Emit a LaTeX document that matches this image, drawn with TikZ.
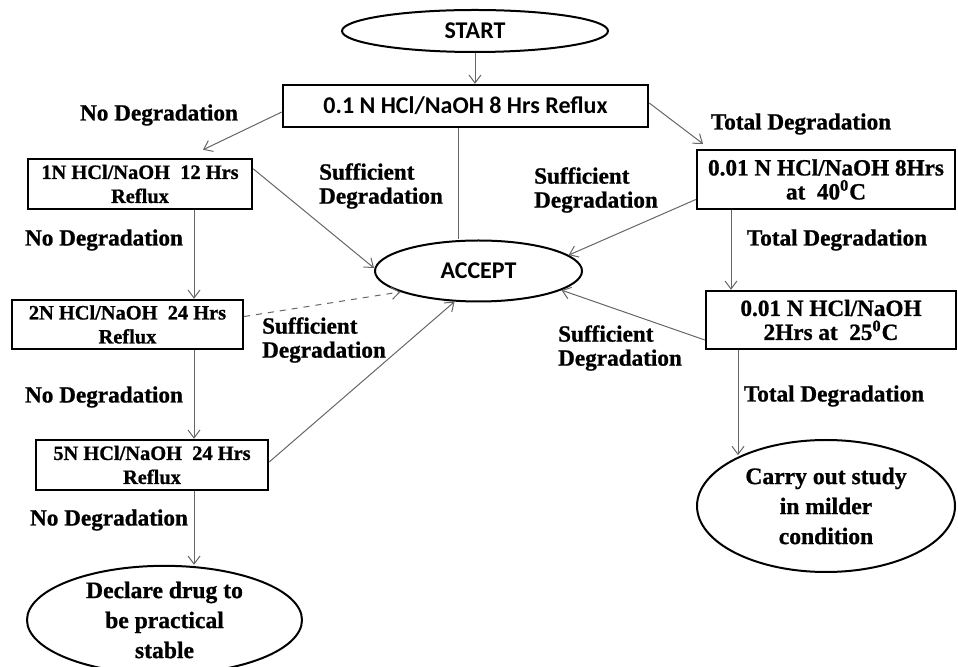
\documentclass[tikz,border=0pt]{standalone}
\usepackage{fontspec}
\setmainfont[FakeBold=0.9]{Liberation Serif}
\newfontfamily\calib{Carlito}
\usetikzlibrary{shapes.geometric,arrows.meta}

\newcommand{\txt}{\fontsize{11.6}{12}\selectfont\bfseries}
\newcommand{\smtxt}{\fontsize{10.2}{12}\selectfont\bfseries}
\newcommand{\ovtxt}{\fontsize{11.8}{15}\selectfont\bfseries}
\newcommand{\sanstxt}{\fontsize{12}{12}\selectfont\calib\bfseries}

\tikzset{
    box/.style={rectangle, draw, line width=1.2pt, align=center, inner sep=0pt, font=\txt},
    oval/.style={ellipse, draw, line width=1pt, align=center, inner sep=0pt, font=\ovtxt},
    arr/.style={->, draw=black!60, line width=0.5pt},
    lbl/.style={align=left, inner sep=0pt, font=\txt},
    >={Straight Barb[length=4pt,width=6pt]}
}

\begin{document}
\begin{tikzpicture}[x=0.5pt, y=-0.5pt]
        \useasboundingbox (0,0) rectangle (958,667);

            % top of the chart
            \node[oval, font=\sanstxt, minimum width=133pt, minimum height=21pt] (start) at (475,31) {START};
            \node[box, font=\sanstxt, minimum width=182.5pt, minimum height=21pt] (first) at (465.5,106) {0.1 N HCl/NaOH 8 Hrs Reflux};
            \node[oval, font=\sanstxt, minimum width=103.5pt, minimum height=30.5pt] (accept) at (478.5,271) {ACCEPT};

            % left column
            \node[box, font=\smtxt, minimum width=112pt, minimum height=25pt] (n1) at (140,184) {1N HCl/NaOH\enspace 12 Hrs\\Reflux};
            \node[box, font=\smtxt, minimum width=115.5pt, minimum height=24.5pt] (n2) at (127.5,324.5) {2N HCl/NaOH\enspace 24 Hrs\\Reflux};
            \node[box, font=\smtxt, minimum width=116pt, minimum height=25pt] (n5) at (152,465) {5N HCl/NaOH\enspace 24 Hrs\\Reflux};
            \node[oval, minimum width=137.5pt, minimum height=47pt] (stable) at (164.5,620) {Declare drug to\\be practical\\stable};

            % right column
            \node[box, minimum width=129pt, minimum height=29.5pt] (t1) at (826,179.5) {0.01 N HCl/NaOH 8Hrs\\at\enspace 40$^{\mathbf{0}}$C};
            \node[box, minimum width=125pt, minimum height=29pt] (t2) at (831,320) {0.01 N HCl/NaOH\\2Hrs at\enspace 25$^{\mathbf{0}}$C};
            \node[oval, minimum width=129pt, minimum height=66pt] (mild) at (826,506) {Carry out study\\in milder\\condition};

            % labels
            \node[lbl] (nd1) at (159,115) {No Degradation};
            \node[lbl] (nd2) at (104,240) {No Degradation};
            \node[lbl] (nd3) at (104,397) {No Degradation};
            \node[lbl] (nd4) at (109,520) {No Degradation};
            \node[lbl] (sd1) at (381,186) {Sufficient\\Degradation};
            \node[lbl] (sd2) at (596,190) {Sufficient\\Degradation};
            \node[lbl] (sd3) at (620,348) {Sufficient\\Degradation};
            \node[lbl] (sd4) at (324,340) {Sufficient\\Degradation};
            \node[lbl] (td1) at (801,124) {Total Degradation};
            \node[lbl] (td2) at (837,240) {Total Degradation};
            \node[lbl] (td3) at (834,396) {Total Degradation};

            % helper points for the straight drops
            \coordinate (fs) at ([xshift=-3.75pt]first.south);
            \coordinate (n1s) at ([xshift=27pt]n1.south);
            \coordinate (n2s) at ([xshift=33.25pt]n2.south);
            \coordinate (n5s) at ([xshift=21pt]n5.south);
            \coordinate (t2s) at ([xshift=-46.5pt]t2.south);

            \draw[arr] (start.south) -- (start.south |- first.north);
            \draw[draw=black!60, line width=0.5pt] (fs) -- (fs |- accept.north);
            \draw[arr] ([yshift=-3pt]first.west) -- ([xshift=31.5pt,yshift=4pt]n1.north);
            \draw[arr] ([yshift=1.5pt]first.east) -- ([xshift=-61.5pt,yshift=2.5pt]t1.north);

            \draw[arr] (n1s) -- (n1s |- n2.north);
            \draw[arr] (n2s) -- (n2s |- n5.north);
            \draw[arr] (n5s) -- (n5s |- stable.north);
            \draw[arr] ([yshift=-5.5pt]n1.north east) -- ([yshift=1.5pt]accept.west);
            \draw[arr, dashed] ([yshift=4pt]n2.east) -- (accept.195);
            \draw[arr] ([yshift=1.5pt]n5.east) -- (accept.232);

            \draw[arr] ([xshift=-47.5pt]t1.south) -- ([xshift=-50pt]t2.north);
            \draw[arr] (t2s) -- (t2s |- mild.149);
            \draw[arr] ([yshift=-10pt]t1.west) -- (accept.10);
            \draw[arr] ([yshift=-10pt]t2.west) -- (accept.-13);
        \end{tikzpicture}
\end{document}
